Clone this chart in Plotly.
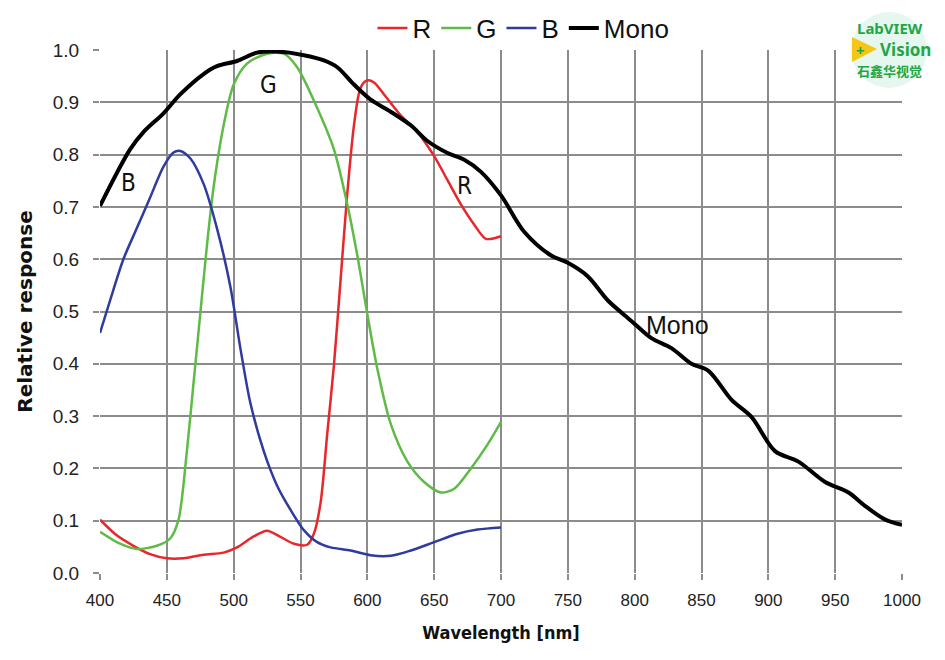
import plotly.graph_objects as go

# ---- data ----
r_x = [400, 412.5, 425, 437.5, 450, 462.5, 477.5, 492.5, 502.5, 515, 525, 535, 545, 555, 560, 565, 570, 575, 580, 585, 590, 595, 600, 605, 612.5, 625, 637.5, 650, 660, 670, 680, 688.75, 700]
r_y = [0.102, 0.072, 0.052, 0.036, 0.028, 0.028, 0.035, 0.039, 0.049, 0.070, 0.081, 0.069, 0.056, 0.054, 0.075, 0.134, 0.266, 0.397, 0.561, 0.725, 0.856, 0.928, 0.942, 0.938, 0.915, 0.875, 0.843, 0.797, 0.751, 0.705, 0.666, 0.639, 0.644]

g_x = [400, 415, 427.5, 442.5, 452.5, 458.75, 465, 470, 475, 480, 485, 492.5, 500, 510, 525, 537.5, 547.5, 562.5, 575, 585, 592.5, 600, 607.5, 617.5, 630, 642.5, 655, 665, 677.5, 690, 700]
g_y = [0.079, 0.056, 0.046, 0.052, 0.066, 0.102, 0.233, 0.364, 0.495, 0.626, 0.738, 0.856, 0.934, 0.974, 0.993, 0.993, 0.967, 0.889, 0.810, 0.705, 0.607, 0.495, 0.390, 0.285, 0.213, 0.174, 0.154, 0.161, 0.200, 0.246, 0.289]

b_x = [400, 407.5, 417.5, 427.5, 437.5, 447.5, 455, 460, 467.5, 477.5, 487.5, 497.5, 505, 512.5, 522.5, 532.5, 542.5, 552.5, 562.5, 572.5, 587.5, 602.5, 617.5, 632.5, 650, 667.5, 682.5, 700]
b_y = [0.459, 0.521, 0.600, 0.659, 0.718, 0.777, 0.804, 0.807, 0.793, 0.744, 0.659, 0.548, 0.430, 0.325, 0.233, 0.167, 0.121, 0.082, 0.059, 0.049, 0.043, 0.034, 0.033, 0.043, 0.059, 0.075, 0.083, 0.087]

m_x = [400, 422.5, 432.5, 447.5, 460, 477.5, 487.5, 502.5, 517.5, 532.5, 552.5, 567.5, 577.5, 590, 602.5, 617.5, 632.5, 645, 660, 672.5, 685, 700, 717.5, 737.5, 750, 765, 780, 797.5, 812.5, 827.5, 842.5, 855, 872.5, 887.5, 905, 922.5, 942.5, 960, 972.5, 987.5, 1000]
m_y = [0.702, 0.810, 0.843, 0.879, 0.915, 0.954, 0.969, 0.979, 0.995, 0.997, 0.990, 0.980, 0.967, 0.934, 0.905, 0.882, 0.856, 0.826, 0.803, 0.790, 0.767, 0.722, 0.652, 0.607, 0.593, 0.567, 0.521, 0.482, 0.449, 0.430, 0.400, 0.387, 0.331, 0.298, 0.233, 0.213, 0.174, 0.154, 0.128, 0.102, 0.092]

x_ticks = [400, 450, 500, 550, 600, 650, 700, 750, 800, 850, 900, 950, 1000]
y_ticks = [0.0, 0.1, 0.2, 0.3, 0.4, 0.5, 0.6, 0.7, 0.8, 0.9, 1.0]
y_tick_text = ["0.0", "0.1", "0.2", "0.3", "0.4", "0.5", "0.6", "0.7", "0.8", "0.9", "1.0"]

cond = "DejaVu Sans Condensed, Liberation Sans, sans-serif"
arial = "Liberation Sans, Arial, sans-serif"

fig = go.Figure()
fig.add_trace(go.Scatter(x=r_x, y=r_y, name="R", mode="lines",
                         line=dict(color="#e8262b", width=2.5, shape="spline", smoothing=0.8)))
fig.add_trace(go.Scatter(x=g_x, y=g_y, name="G", mode="lines",
                         line=dict(color="#5dbb46", width=2.5, shape="spline", smoothing=0.8)))
fig.add_trace(go.Scatter(x=b_x, y=b_y, name="B", mode="lines",
                         line=dict(color="#2f3b9e", width=2.5, shape="spline", smoothing=0.8)))
fig.add_trace(go.Scatter(x=m_x, y=m_y, name="Mono", mode="lines",
                         line=dict(color="#000000", width=4, shape="spline", smoothing=0.9)))

grid = "#8c8c8c"
fig.update_layout(
    width=945, height=660,
    margin=dict(l=92, r=51, t=42, b=95, autoexpand=False),
    paper_bgcolor="white", plot_bgcolor="white",
    showlegend=True,
    legend=dict(orientation="h", x=0.528, xanchor="center", y=1.042, yanchor="middle",
                font=dict(family=arial, size=26, color="#111"), itemwidth=30,
                bgcolor="rgba(0,0,0,0)", tracegroupgap=0),
    xaxis=dict(range=[400, 1000], tickvals=x_ticks, showgrid=True, gridcolor=grid, gridwidth=1.5,
               ticks="outside", ticklen=6, tickcolor=grid, tickwidth=1.5,
               zeroline=False, showline=False,
               tickfont=dict(family=arial, size=17, color="#222"), ticklabelstandoff=6,
               title=dict(text="<b>Wavelength [nm]</b>", font=dict(family=cond, size=18, color="#111"),
                          standoff=16)),
    yaxis=dict(range=[0, 1], tickvals=y_ticks, ticktext=y_tick_text, showgrid=True, gridcolor=grid,
               gridwidth=1.5, ticks="outside", ticklen=6, tickcolor=grid, tickwidth=1.5,
               zeroline=False, showline=False,
               tickfont=dict(family=arial, size=19, color="#222"), ticklabelstandoff=10,
               title=dict(text="<b>Relative response</b>",
                          font=dict(family="DejaVu Sans, Liberation Sans, sans-serif", size=20, color="#111"),
                          standoff=14)),
)

# curve labels
for txt, x, y, fam, sz in [("B", 421, 0.746, cond, 24), ("G", 525.7, 0.933, cond, 24),
                           ("R", 673, 0.74, cond, 24), ("Mono", 832.4, 0.474, arial, 25)]:
    fig.add_annotation(x=x, y=y, text=txt, showarrow=False,
                       font=dict(family=fam, size=sz, color="#111"))

# logo (decorative), positions given in screen pixels of the reference
def px_x(p):
    return (p - 100) / 802.0

def px_y(p):
    return (573 - p) / 523.0

fig.add_shape(type="circle", xref="paper", yref="paper",
              x0=px_x(851), x1=px_x(927), y0=px_y(88), y1=px_y(12),
              fillcolor="#e6f7f0", line=dict(width=0), layer="above")
fig.add_shape(type="path", xref="paper", yref="paper",
              path=f"M {px_x(852)} {px_y(37)} L {px_x(877)} {px_y(49)} L {px_x(852)} {px_y(62)} Z",
              fillcolor="#f5c518", line=dict(width=0), layer="above")
logo_green = "#1fa645"
for txt, x, y, sz, fam in [("<b>LabVIEW</b>", 890, 28, 15, "Noto Sans, Arial, sans-serif"),
                           ("<b>+</b>", 860, 50, 15, "Noto Sans, Arial, sans-serif"),
                           ("<b>Vision</b>", 906, 49, 17, "Noto Sans, Arial, sans-serif"),
                           ("<b>石鑫华视觉</b>", 889, 70, 13, "Noto Sans CJK SC, sans-serif")]:
    fig.add_annotation(xref="paper", yref="paper", x=px_x(x), y=px_y(y), text=txt,
                       xanchor="center", yanchor="middle", showarrow=False,
                       font=dict(family=fam, size=sz, color=logo_green))

fig.write_html("out.html")
